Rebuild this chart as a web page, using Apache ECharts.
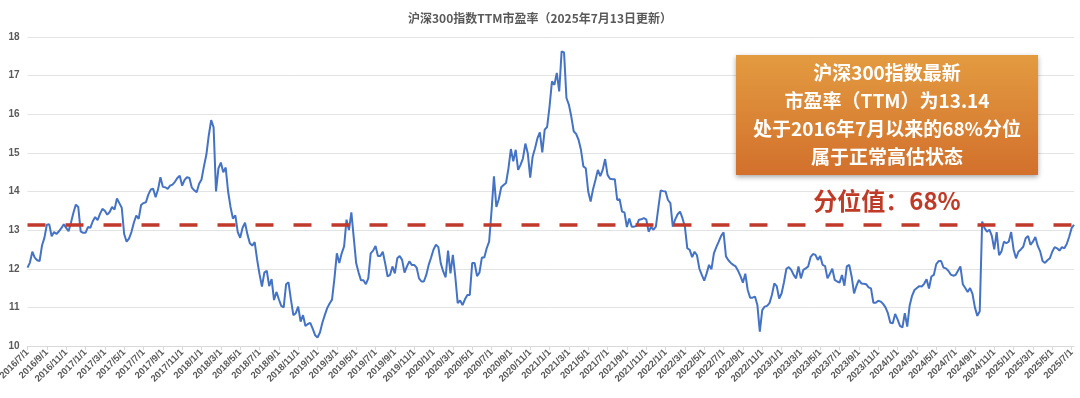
<!DOCTYPE html>
<html>
<head>
<meta charset="utf-8">
<script src="https://cdn.jsdelivr.net/npm/echarts@6/dist/echarts.min.js"></script>
<style>
  html, body { margin: 0; padding: 0; background: #fff; }
  #chart { width: 1080px; height: 398px; }
</style>
</head>
<body>
<div id="chart"></div>
<script>
// 每周取样：每月1、8、16、24日
const weekDays = [1, 8, 16, 24];
const lastDates = ['2025/7/1', '2025/7/8'];

// 沪深300 TTM市盈率（按年份分段）
const pe2016 = [12.03, 12.16, 12.44, 12.29, 12.22, 12.2, 12.6, 12.8, 13.14, 13.15, 12.84, 12.95,
    12.9, 12.97, 13.05, 13.15, 13.06, 12.97, 13.2, 13.45, 13.66, 13.6, 12.97, 12.93];
const pe2017 = [12.93, 13.08, 13.06, 13.23, 13.34, 13.26, 13.42, 13.55, 13.5, 13.4, 13.47, 13.6,
    13.53, 13.82, 13.7, 13.58, 12.9, 12.7, 12.78, 12.95, 13.19, 13.38, 13.29, 13.65,
    13.7, 13.72, 13.92, 14.05, 14.07, 13.85, 14.05, 14.37, 14.12, 14.11, 14.07, 14.15,
    14.18, 14.25, 14.35, 14.41, 14.15, 14.3, 14.37, 14.35, 14.1, 14.03, 13.98, 14.2];
const pe2018 = [14.31, 14.65, 14.95, 15.45, 15.85, 15.66, 14.0, 14.6, 14.75, 14.5, 14.62, 14.0,
    13.6, 13.3, 13.38, 12.95, 12.8, 13.06, 13.19, 12.89, 12.66, 12.6, 12.69, 12.24,
    11.86, 11.54, 11.9, 11.95, 11.55, 11.73, 11.19, 11.4, 11.21, 11.04, 11.0, 11.6,
    11.65, 11.2, 10.8, 10.85, 11.02, 10.63, 10.8, 10.52, 10.57, 10.6, 10.45, 10.28];
const pe2019 = [10.22, 10.35, 10.6, 10.8, 10.98, 11.1, 11.2, 11.75, 12.4, 12.15, 12.4, 12.58,
    13.27, 13.0, 13.46, 12.8, 12.14, 11.9, 11.7, 11.7, 11.6, 11.75, 12.4, 12.47,
    12.59, 12.33, 12.33, 12.44, 12.14, 11.8, 11.84, 12.06, 11.88, 12.27, 12.33, 12.23,
    11.9, 12.06, 12.19, 12.1, 12.1, 12.03, 11.75, 11.67, 11.67, 11.84, 12.1, 12.29];
const pe2020 = [12.5, 12.62, 12.56, 12.14, 11.93, 11.78, 12.47, 11.88, 12.36, 11.8, 11.11, 11.18,
    11.06, 11.21, 11.32, 11.32, 12.15, 12.15, 11.81, 11.9, 12.29, 12.29, 12.53, 12.7,
    13.5, 14.39, 13.6, 13.8, 14.11, 14.17, 14.22, 14.6, 15.1, 14.78, 15.08, 14.56,
    14.69, 14.86, 15.24, 14.99, 14.36, 14.9, 15.12, 15.38, 15.53, 15.01, 15.6, 15.67];
const pe2021 = [16.2, 16.85, 16.76, 17.07, 16.59, 17.63, 17.6, 16.42, 16.25, 15.94, 15.56, 15.49,
    15.34, 15.08, 14.65, 14.6, 14.0, 13.74, 14.06, 14.3, 14.56, 14.4, 14.56, 14.84,
    14.43, 14.33, 14.32, 14.32, 13.78, 13.8, 13.48, 13.46, 13.08, 13.3, 13.09, 13.09,
    13.11, 13.27, 13.28, 13.31, 13.28, 12.96, 13.08, 13.01, 13.09, 13.57, 14.03, 14.01];
const pe2022 = [14.0, 13.78, 13.7, 13.09, 13.28, 13.41, 13.48, 13.31, 13.09, 12.53, 12.49, 12.3,
    12.44, 12.35, 12.0, 11.84, 11.69, 11.88, 12.1, 11.99, 12.4, 12.56, 12.7, 12.85,
    12.94, 12.32, 12.22, 12.15, 12.1, 12.06, 11.95, 11.81, 11.64, 11.87, 11.45, 11.25,
    11.25, 11.28, 11.06, 10.37, 10.93, 11.02, 11.04, 11.11, 11.32, 11.62, 11.55, 11.23];
const pe2023 = [11.36, 11.65, 12.0, 12.04, 11.97, 11.84, 11.75, 12.06, 11.75, 11.97, 12.01, 12.06,
    12.3, 12.38, 12.36, 12.23, 12.33, 12.1, 12.07, 11.75, 11.87, 12.0, 11.71, 11.67,
    11.64, 11.84, 11.56, 12.06, 12.1, 11.8, 11.36, 11.56, 11.71, 11.62, 11.61, 11.6,
    11.52, 11.49, 11.12, 11.12, 11.17, 11.15, 11.09, 11.0, 10.85, 10.6, 10.59, 10.83];
const pe2024 = [10.69, 10.52, 10.48, 10.85, 10.5, 11.05, 11.3, 11.45, 11.5, 11.55, 11.54, 11.61,
    11.73, 11.49, 11.8, 11.84, 12.12, 12.2, 12.2, 12.03, 12.01, 11.95, 11.85, 11.82,
    11.84, 11.95, 12.06, 11.6, 11.5, 11.4, 11.5, 11.35, 11.0, 10.78, 10.9, 13.22,
    13.05, 12.96, 13.01, 12.85, 12.5, 12.95, 12.35, 12.45, 12.7, 12.66, 12.7, 12.95];
const pe2025 = [12.5, 12.27, 12.44, 12.5, 12.57, 12.79, 12.85, 12.62, 12.7, 12.82, 12.59, 12.45,
    12.2, 12.15, 12.22, 12.27, 12.44, 12.56, 12.53, 12.47, 12.56, 12.53, 12.64, 12.83,
    13.05, 13.14];

const latestPE = 13.14;
const yTicks = { min: 10, max: 18, interval: 1 };

const peValues = [].concat(pe2016, pe2017, pe2018, pe2019, pe2020, pe2021, pe2022, pe2023, pe2024, pe2025);

const dates = [];
for (let y = 2016; y <= 2025; y++) {
    for (let m = 1; m <= 12; m++) {
        if (y === 2016 && m < 7) continue;
        if (y === 2025 && m > 6) break;
        weekDays.forEach(d => dates.push(y + '/' + m + '/' + d));
    }
}
lastDates.forEach(d => dates.push(d));

// 每两个月显示一个刻度标签（奇数月1日）
function showLabel(index, value) {
    const p = value.split('/');
    return p[2] === '1' && Number(p[1]) % 2 === 1;
}

const chart = echarts.init(document.getElementById('chart'));
const option = {
    animation: false,
    textStyle: { fontFamily: 'Noto Sans CJK SC' },
    title: {
        text: '沪深300指数TTM市盈率（2025年7月13日更新）',
        left: 'center',
        top: 7,
        textStyle: {
            color: '#595959',
            fontSize: 12,
            fontWeight: 'bold',
            fontFamily: 'Noto Sans CJK SC'
        }
    },
    grid: {
        left: 27.5,
        right: 6,
        top: 37,
        bottom: 52,
        containLabel: false,
        outerBoundsMode: 'none'
    },
    xAxis: {
        type: 'category',
        data: dates,
        boundaryGap: false,
        axisLine: { lineStyle: { color: '#d9d9d9' } },
        axisTick: {
            interval: showLabel,
            length: 4,
            lineStyle: { color: '#d9d9d9' }
        },
        axisLabel: {
            interval: showLabel,
            rotate: 45,
            fontSize: 9.5,
            fontWeight: 'bold',
            color: '#595959',
            margin: 5,
            fontFamily: 'Liberation Sans'
        },
        splitLine: { show: false }
    },
    yAxis: {
        type: 'value',
        min: yTicks.min,
        max: yTicks.max,
        interval: yTicks.interval,
        axisLine: { show: false },
        axisTick: { show: false },
        axisLabel: {
            color: '#595959',
            fontSize: 10,
            fontWeight: 'bold',
            margin: 8,
            fontFamily: 'Liberation Sans'
        },
        splitLine: { lineStyle: { color: '#e3e3e3', width: 1 } }
    },
    series: [{
        name: 'PE-TTM',
        type: 'line',
        data: peValues,
        showSymbol: false,
        symbol: 'none',
        lineStyle: { color: '#4472C4', width: 2 },
        itemStyle: { color: '#4472C4' },
        markLine: {
            silent: true,
            symbol: 'none',
            label: { show: false },
            lineStyle: { color: '#C0392B', width: 3.5, type: [18, 20] },
            data: [{ yAxis: latestPE }]
        }
    }],
    graphic: [
        {
            type: 'rect',
            z: 100,
            shape: { x: 736, y: 55, width: 302, height: 120 },
            style: {
                fill: new echarts.graphic.LinearGradient(0, 0, 0, 1, [
                    { offset: 0, color: '#E39B40' },
                    { offset: 1, color: '#D2702C' }
                ]),
                shadowBlur: 5,
                shadowOffsetY: 2,
                shadowColor: 'rgba(0,0,0,0.35)'
            }
        },
        {
            type: 'text',
            z: 101,
            x: 887,
            y: 115,
            style: {
                text: '沪深300指数最新\n市盈率（TTM）为13.14\n处于2016年7月以来的68%分位\n属于正常高估状态',
                fill: '#ffffff',
                fontSize: 19,
                lineHeight: 28,
                fontWeight: 'bold',
                fontFamily: 'Noto Sans CJK SC',
                align: 'center',
                verticalAlign: 'middle'
            }
        },
        {
            type: 'text',
            z: 101,
            x: 887,
            y: 201,
            style: {
                text: '分位值：68%',
                fill: '#BF3A27',
                fontSize: 24,
                fontWeight: 'bold',
                fontFamily: 'Noto Sans CJK SC',
                align: 'center',
                verticalAlign: 'middle'
            }
        }
    ]
};
chart.setOption(option);
</script>
</body>
</html>
